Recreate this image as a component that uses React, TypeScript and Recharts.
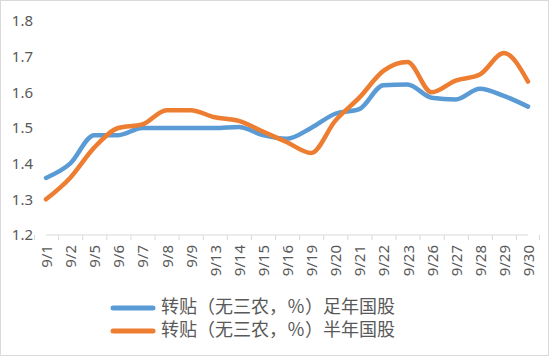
import React from 'react'
import { ComposedChart, Line, XAxis, YAxis, Legend } from 'recharts'

const dates = ['9/1', '9/2', '9/5', '9/6', '9/7', '9/8', '9/9', '9/13', '9/14', '9/15', '9/16', '9/19', '9/20', '9/21', '9/22', '9/23', '9/26', '9/27', '9/28', '9/29', '9/30']
const fullYear = [1.36, 1.40, 1.48, 1.48, 1.50, 1.50, 1.50, 1.50, 1.503, 1.48, 1.47, 1.50, 1.54, 1.553, 1.62, 1.622, 1.585, 1.58, 1.61, 1.59, 1.56]
const halfYear = [1.30, 1.36, 1.445, 1.50, 1.51, 1.55, 1.55, 1.53, 1.52, 1.49, 1.46, 1.43, 1.52, 1.585, 1.66, 1.685, 1.60, 1.633, 1.65, 1.71, 1.63]
const yTicks = [1.2, 1.3, 1.4, 1.5, 1.6, 1.7, 1.8]
const seriesNames = ['转贴（无三农，％）足年国股', '转贴（无三农，％）半年国股']

const data = dates.map((d, i) => ({ date: d, full: fullYear[i], half: halfYear[i] }))

const W = 549
const H = 356
const PLOT_LEFT = 46
const PLOT_RIGHT = 21
const BAND = (W - PLOT_LEFT - PLOT_RIGHT) / dates.length

const BLUE = '#5B9BD5'
const ORANGE = '#ED7D31'
const TEXT = '#595959'
const AXIS = '#D9D9D9'

// ticks sit between categories like the Excel original, labels turned upright
const DateTick = (props: any) => {
    const { x, y, payload, index } = props
    return (
        <g>
            <line x1={x - BAND / 2} y1={y} x2={x - BAND / 2} y2={y + 5} stroke={AXIS} strokeWidth={1} />
            {index === dates.length - 1 && (
                <line x1={x + BAND / 2} y1={y} x2={x + BAND / 2} y2={y + 5} stroke={AXIS} strokeWidth={1} />
            )}
            <text
                x={0}
                y={0}
                transform={`translate(${x},${y + 10}) rotate(-90)`}
                textAnchor="end"
                dominantBaseline="central"
                fontSize={15}
                fill={TEXT}
            >
                {payload.value}
            </text>
        </g>
    )
}

const LegendRows = () => (
    <div style={{ paddingLeft: 110 }}>
        {seriesNames.map((name, i) => (
            <div key={name} style={{ display: 'flex', alignItems: 'center', height: 23 }}>
                <svg width={46} height={8} style={{ marginRight: 5 }}>
                    <line x1={3} y1={4} x2={43} y2={4} stroke={i === 0 ? BLUE : ORANGE} strokeWidth={5} strokeLinecap="round" />
                </svg>
                <span style={{ fontSize: 18, color: TEXT, lineHeight: '23px', fontFamily: '"Liberation Sans", "Noto Sans CJK SC", sans-serif' }}>{name}</span>
            </div>
        ))}
    </div>
)

export default function App() {
    return (
        <div style={{ position: 'absolute', left: 0, top: 0, width: W, height: H, boxSizing: 'border-box', border: `1px solid ${AXIS}`, background: '#fff', fontFamily: '"Noto Sans", "Noto Sans CJK SC", sans-serif', overflow: 'hidden' }}>
            <div style={{ position: 'absolute', left: -1, top: -1 }}>
                <ComposedChart width={W} height={H} data={data} margin={{ top: 21, right: PLOT_RIGHT, left: 0, bottom: 14 }}>
                    <XAxis
                        dataKey="date"
                        interval={0}
                        height={61}
                        tickLine={false}
                        tickSize={0}
                        tickMargin={0}
                        axisLine={{ stroke: AXIS, strokeWidth: 1 }}
                        tick={<DateTick />}
                    />
                    <YAxis
                        type="number"
                        domain={[1.2, 1.8]}
                        ticks={yTicks}
                        width={PLOT_LEFT}
                        axisLine={false}
                        tickLine={false}
                        tickMargin={7}
                        tick={{ fontSize: 15, fill: TEXT }}
                        tickFormatter={(v: number) => v.toFixed(1)}
                    />
                    <Legend verticalAlign="bottom" content={<LegendRows />} wrapperStyle={{ left: 0, width: W, bottom: 14 }} />
                    <Line dataKey="full" name={seriesNames[0]} type="monotone" stroke={BLUE} strokeWidth={4.5} strokeLinecap="round" dot={false} isAnimationActive={false} />
                    <Line dataKey="half" name={seriesNames[1]} type="monotone" stroke={ORANGE} strokeWidth={4.5} strokeLinecap="round" dot={false} isAnimationActive={false} />
                </ComposedChart>
            </div>
        </div>
    )
}
